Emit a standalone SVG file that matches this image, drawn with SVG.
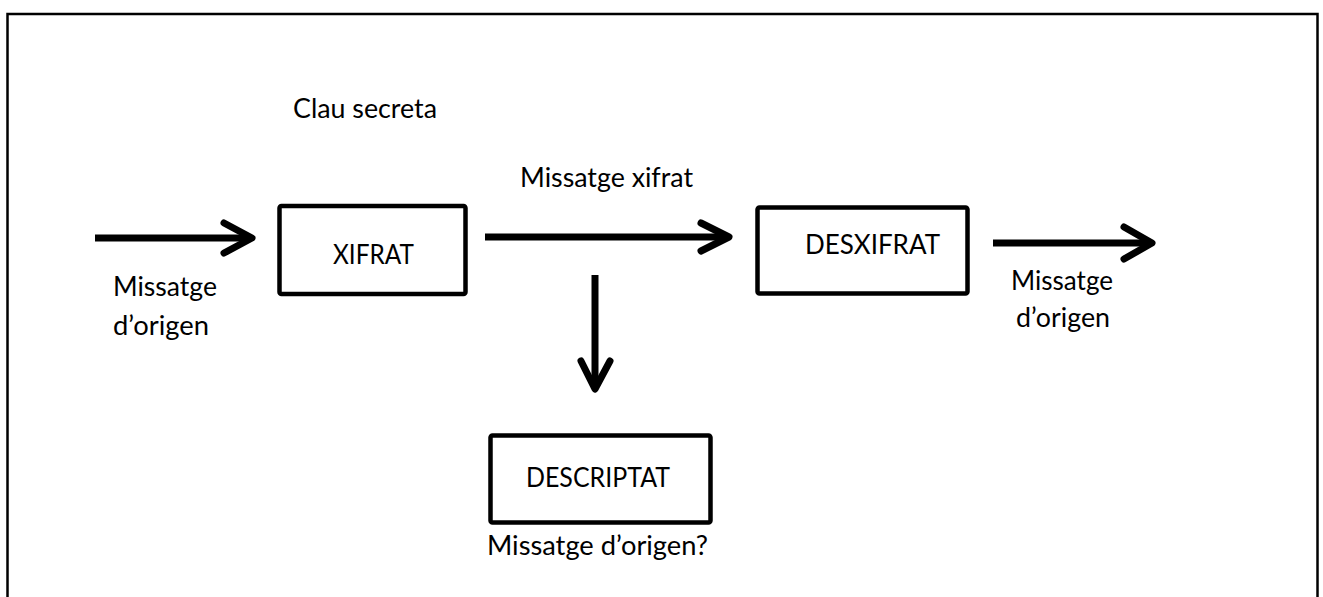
<svg xmlns="http://www.w3.org/2000/svg" width="1323" height="597" viewBox="0 0 1323 597">
<style>
.box{fill:#fff;stroke:#000;stroke-width:4.5}
.t{font-family:Lato,"Liberation Sans",sans-serif;font-size:26px;fill:#000}
.ln{fill:none;stroke:#000;stroke-width:7;stroke-linecap:butt}
.hd{fill:none;stroke:#000;stroke-width:7;stroke-linecap:round;stroke-linejoin:round}
</style>
<rect x="0" y="0" width="1323" height="597" fill="#fff"/>
<rect id="frame" x="7.5" y="14" width="1310" height="600" fill="none" stroke="#000" stroke-width="2.5"/>
<g id="connectors">
<line class="ln" x1="95" y1="238" x2="250" y2="238"/>
<polyline class="hd" points="224,223 252,238 224,253"/>
<line class="ln" x1="485" y1="237" x2="727" y2="237"/>
<polyline class="hd" points="701,223 729,237 701,251"/>
<line class="ln" x1="993" y1="243" x2="1150" y2="243"/>
<polyline class="hd" points="1124,227 1152,243 1124,259"/>
<line class="ln" x1="595" y1="275" x2="595" y2="387"/>
<polyline class="hd" points="581,361 595,389 610,361"/>
</g>
<g id="xifrat">
<rect class="box" x="279.5" y="206" width="186" height="88" rx="2"/>
<text class="t" x="333" y="264" textLength="81" lengthAdjust="spacingAndGlyphs">XIFRAT</text>
</g>
<g id="desxifrat">
<rect class="box" x="757.5" y="207.5" width="210" height="86" rx="2"/>
<text class="t" x="805" y="254" textLength="135" lengthAdjust="spacingAndGlyphs">DESXIFRAT</text>
</g>
<g id="descriptat">
<rect class="box" x="490.5" y="435.5" width="220" height="87" rx="2"/>
<text class="t" x="526" y="487" textLength="144" lengthAdjust="spacingAndGlyphs">DESCRIPTAT</text>
</g>
<g id="labels">
<text class="t" x="293" y="118" textLength="144" lengthAdjust="spacingAndGlyphs">Clau secreta</text>
<text class="t" x="520" y="187" textLength="173" lengthAdjust="spacingAndGlyphs">Missatge xifrat</text>
<text class="t" x="113" y="296" textLength="104" lengthAdjust="spacingAndGlyphs">Missatge</text>
<text class="t" x="113" y="335" textLength="96" lengthAdjust="spacingAndGlyphs">d’origen</text>
<text class="t" x="1011" y="290" textLength="102" lengthAdjust="spacingAndGlyphs">Missatge</text>
<text class="t" x="1016" y="327" textLength="94" lengthAdjust="spacingAndGlyphs">d’origen</text>
<text class="t" x="487" y="555" textLength="221" lengthAdjust="spacingAndGlyphs">Missatge d’origen?</text>
</g>
</svg>
